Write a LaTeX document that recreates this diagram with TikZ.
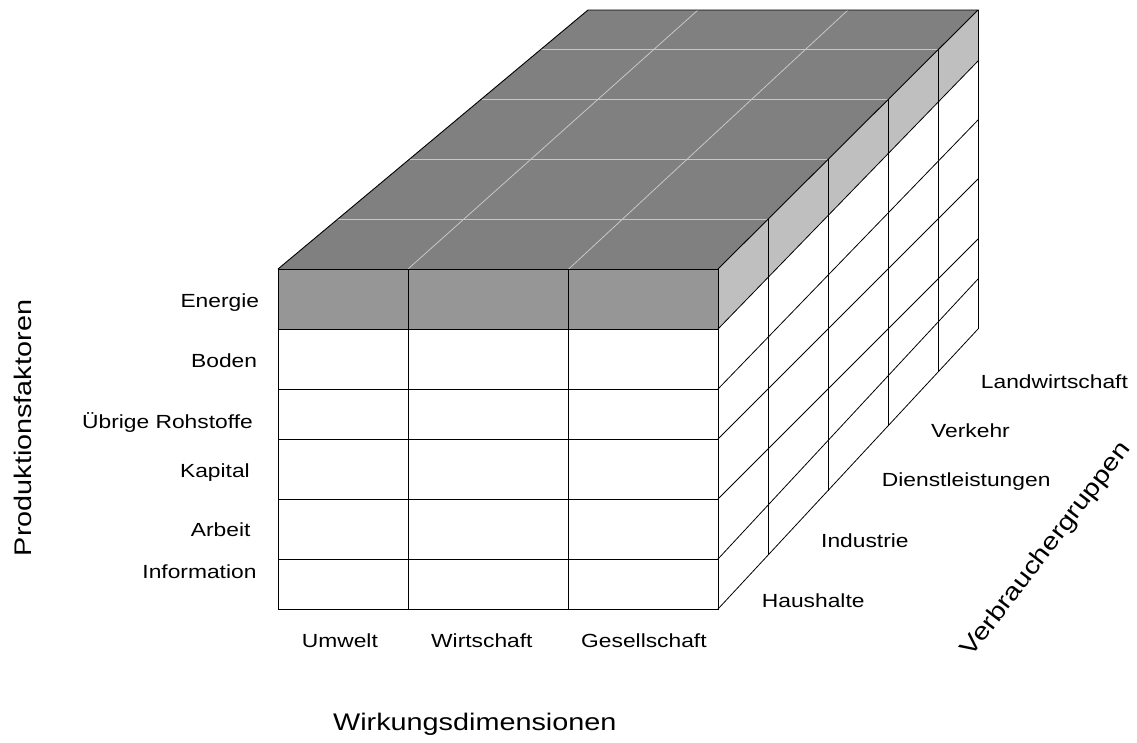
\documentclass[tikz,border=0pt]{standalone}
\usepackage{fontspec}
\setmainfont{Liberation Sans}
\usepackage{graphicx}
\definecolor{topgray}{gray}{0.5}
\definecolor{frontgray}{gray}{0.59}
\definecolor{sidegray}{gray}{0.75}
\definecolor{gridgray}{gray}{0.78}
\newcommand\stretchtxt[1]{\scalebox{1.2}[1]{#1}}
\begin{document}
\begin{tikzpicture}[x=1pt,y=-1pt,
  edge/.style={black,line width=0.9pt},
  diag/.style={black,line width=0.8pt},
  topgrid/.style={draw=gridgray,line width=0.8pt},
  lbl/.style={inner sep=0pt,font=\fontsize{19}{22}\selectfont},
  axislbl/.style={inner sep=0pt,font=\fontsize{24}{28}\selectfont}]
\useasboundingbox (0,0) rectangle (1137,742);
% corners
\coordinate (TL) at (278,269);
\coordinate (TR) at (718,269);
\coordinate (BL) at (278,609);
\coordinate (BR) at (718,609);
\coordinate (KL) at (588,10);
\coordinate (KR) at (978,10);
\coordinate (KB) at (978,329);
% top face
\fill[topgray] (TL) -- (KL) -- (KR) -- (TR) -- cycle;
\draw[topgrid] (337.8,219) -- (768.2,219);
\draw[topgrid] (409.7,159) -- (828.4,159);
\draw[topgrid] (481.5,99) -- (888.7,99);
\draw[topgrid] (541.3,49) -- (938.9,49);
\draw[topgrid] (408,269) -- (698,10);
\draw[topgrid] (568.7,269) -- (848,10);
% right energy band and front energy row
\fill[sidegray] (TR) -- (KR) -- (978,61) -- (718,329) -- cycle;
\fill[frontgray] (TL) rectangle (718,329);
% top outline
\draw[edge] (TL) -- (KL) -- (KR) -- (TR);
% front grid
\draw[edge] (TL) rectangle (BR);
\foreach \y in {329,389,439,499,559} \draw[edge] (278,\y) -- (718,\y);
\foreach \x in {408,568.7} \draw[edge] (\x,269) -- (\x,609);
% right face
\draw[diag] (718,329) -- (978,61);
\draw[diag] (718,389) -- (978,120);
\draw[diag] (718,439) -- (978,179);
\draw[diag] (718,499) -- (978,239);
\draw[diag] (718,559) -- (978,279);
\draw[diag] (BR) -- (KB);
\draw[edge] (KR) -- (KB);
\draw[edge] (768,219.2) -- (768,555.2);
\draw[edge] (828,159.4) -- (828,490.5);
\draw[edge] (888,99.6) -- (888,425.9);
\draw[edge] (938,49.8) -- (938,372.1);
% row labels
\node[lbl,anchor=base east] (lEnergie) at (259.3,307.3) {\stretchtxt{Energie}};
\node[lbl,anchor=base east] (lBoden) at (257.3,367.3) {\stretchtxt{Boden}};
\node[lbl,anchor=base east] (lRoh) at (253,428.3) {\stretchtxt{Übrige Rohstoffe}};
\node[lbl,anchor=base east] (lKapital) at (250,477.3) {\stretchtxt{Kapital}};
\node[lbl,anchor=base east] (lArbeit) at (250.7,536.7) {\stretchtxt{Arbeit}};
\node[lbl,anchor=base east] (lInfo) at (256.7,578.3) {\stretchtxt{Information}};
% column labels
\node[lbl,anchor=base west] (lUmwelt) at (301.7,647.7) {\stretchtxt{Umwelt}};
\node[lbl,anchor=base west] (lWirt) at (431,647.7) {\stretchtxt{Wirtschaft}};
\node[lbl,anchor=base west] (lGes) at (581,647.7) {\stretchtxt{Gesellschaft}};
% depth labels
\node[lbl,anchor=base west] (lLand) at (980.7,388.3) {\stretchtxt{Landwirtschaft}};
\node[lbl,anchor=base west] (lVerk) at (931,437.3) {\stretchtxt{Verkehr}};
\node[lbl,anchor=base west] (lDienst) at (881.7,486.7) {\stretchtxt{Dienstleistungen}};
\node[lbl,anchor=base west] (lInd) at (821,547.3) {\stretchtxt{Industrie}};
\node[lbl,anchor=base west] (lHaus) at (761.7,607.3) {\stretchtxt{Haushalte}};
% axis labels
\node[axislbl,anchor=base,rotate=90] (aProd) at (31.7,428) {\stretchtxt{Produktionsfaktoren}};
\node[axislbl,anchor=base] (aWirk) at (474.8,730) {\stretchtxt{Wirkungsdimensionen}};
\node[axislbl,anchor=base,rotate=52.6] (aVerb) at (1051.5,553.5) {\stretchtxt{Verbrauchergruppen}};
\end{tikzpicture}
\end{document}
